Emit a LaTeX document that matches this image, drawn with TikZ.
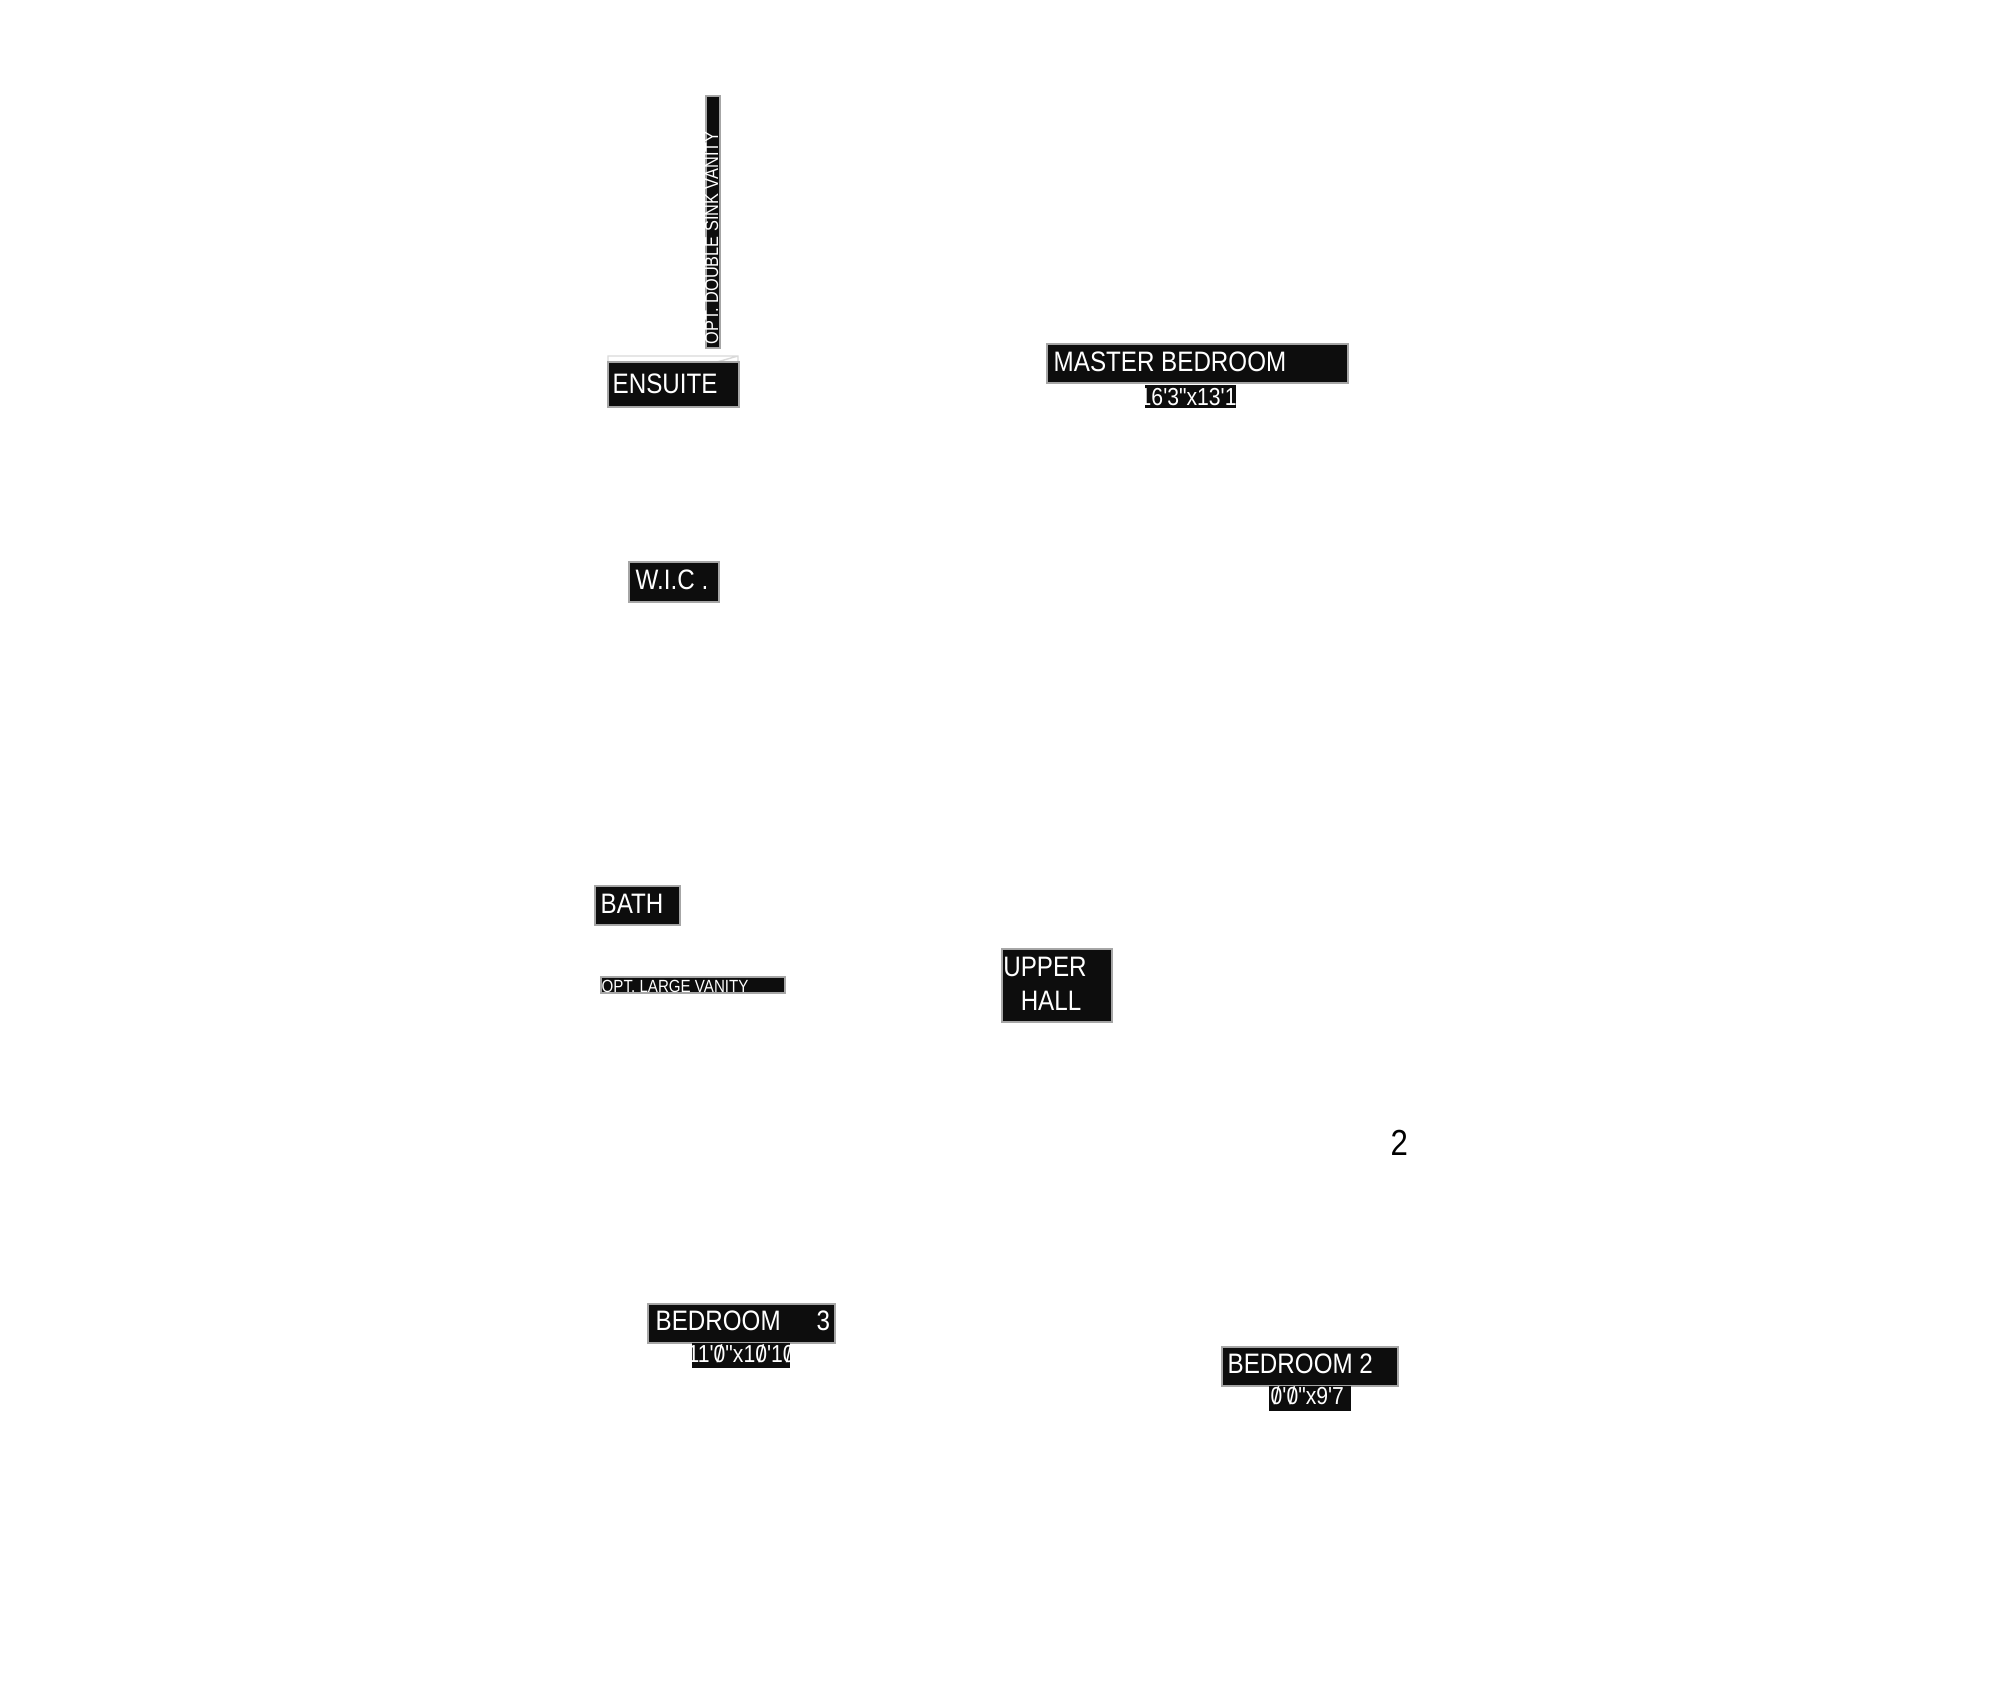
\documentclass[tikz,border=0pt]{standalone}
\usepackage{fontspec}
\newfontfamily\planfont{Liberation Sans}[FakeStretch=0.86]
\newcommand{\slz}{\ooalign{0\cr\hidewidth/\hidewidth\cr}}

\begin{document}
\begin{tikzpicture}[x=0.01cm,y=-0.01cm,
  tag/.style={fill=black!95,draw=gray!70,line width=0.4pt},
  lbl/.style={text=white,inner sep=0pt,font=\planfont\fontsize{8}{9}\selectfont},
  dim/.style={text=white,inner sep=0pt,font=\planfont\fontsize{7}{8}\selectfont}]
\useasboundingbox (0,0) rectangle (2000,1706);

\draw[tag] (706,96) rectangle (720,348); % the vanity strip
\node[lbl,font=\planfont\fontsize{5.4}{6}\selectfont,rotate=90,anchor=base west] (Vanity) at (718,345) {OPT. DOUBLE SINK VANITY};

\draw[gray!30,line width=0.4pt] (608,356) rectangle (738,362) (738,356) -- (717,362);
\draw[tag] (608,362) rectangle (739,407);
\node[lbl,anchor=base west] (Ensuite) at (612,393) {ENSUITE};

\draw[tag] (1047,344) rectangle (1348,383);
\node[lbl,anchor=base west] (Master) at (1053,371) {MASTER BEDROOM};
\fill[black!95] (1145,385) rectangle (1236,408); % size strip
\node[dim,anchor=base west] (MasterDim) at (1139,405) {16'3"x13'1};

\draw[tag] (629,562) rectangle (719,602);
\node[lbl,anchor=base west] (Wic) at (635,589) {W.I.C .};

\draw[tag] (595,886) rectangle (680,925);
\node[lbl,anchor=base west] (Bath) at (600,913) {BATH};
\draw[tag] (601,977) rectangle (785,993);
\node[lbl,font=\planfont\fontsize{5}{6}\selectfont,anchor=base west] (LargeVanity) at (601,992) {OPT. LARGE VANITY};

\draw[tag] (1002,949) rectangle (1112,1022);
\node[lbl,anchor=base] (Upper) at (1045,976) {UPPER};
\node[lbl,anchor=base] (Hall) at (1051,1010) {HALL};

\draw[tag] (648,1304) rectangle (835,1343);
\node[lbl,anchor=base west] (BedThree) at (655,1330) {BEDROOM\hspace{0.36cm}3};
\fill[black!95] (692,1343) rectangle (790,1368); % size strip
\node[dim,anchor=base west] (BedThreeDim) at (687,1362) {11'\slz"x1\slz'1\slz"};

\draw[tag] (1222,1347) rectangle (1398,1386);
\node[lbl,anchor=base west] (BedTwo) at (1227,1373) {BEDROOM 2};
\fill[black!95] (1269,1386) rectangle (1351,1411); % size strip
\node[dim,anchor=base west] (BedTwoDim) at (1270,1404) {\slz'\slz"x9'7};

\node[font=\planfont\fontsize{10.3}{12}\selectfont,inner sep=0pt,anchor=base west] (Stair) at (1390,1155) {2};
\end{tikzpicture}
\end{document}
